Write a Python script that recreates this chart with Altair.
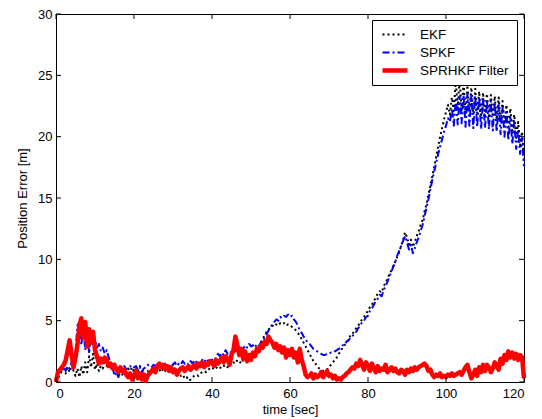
import altair as alt
import pandas as pd

# Sample grid: 0 .. 120 s in 0.5 s steps
time_s = [i * 0.5 for i in range(241)]

ekf = [
    0.0, 0.3, 0.6, 0.9, 1.1, 0.7, 1.2, 0.8, 1.4, 0.9, 0.5, 1.1, 0.4, 1.3, 0.6, 1.6, 0.8, 2.1, 1.2, 2.3,
    1.0, 1.5, 0.9, 1.3, 1.1, 1.6, 1.3, 1.5, 1.2, 1.4, 1.1, 1.3, 0.9, 1.2, 0.6, 1.0, 0.7, 1.1, 0.9, 1.2,
    0.8, 1.1, 0.9, 1.3, 1.0, 0.8, 0.6, 0.9, 0.7, 1.0, 0.8, 1.1, 0.9, 1.0, 0.8, 1.1, 0.9, 1.2, 1.0, 1.1,
    0.9, 1.0, 0.7, 0.8, 0.5, 0.6, 0.3, 0.4, 0.1, 0.2, 0.4, 0.5, 0.6, 0.5, 0.7, 0.8, 0.9, 0.8, 1.0, 1.1,
    1.0, 1.2, 1.1, 1.3, 1.2, 1.1, 1.3, 1.4, 1.2, 1.5, 1.4, 1.6, 1.5, 1.8, 1.7, 1.5, 1.8, 2.0, 1.6, 1.9,
    2.0, 2.2, 2.3, 2.5, 2.9, 3.2, 3.5, 3.8, 4.1, 4.3, 4.4, 4.6, 4.5, 4.7, 4.6, 4.8, 4.7, 4.8, 4.6, 4.7,
    4.6, 4.5, 4.4, 4.2, 4.0, 3.8, 3.5, 3.2, 2.9, 2.6, 2.3, 2.0, 1.7, 1.5, 1.3, 1.1, 1.0, 0.9, 0.9, 1.0,
    1.2, 1.4, 1.6, 1.8, 2.0, 2.3, 2.5, 2.8, 3.0, 3.2, 3.5, 3.8, 3.9, 4.2, 4.4, 4.6, 4.9, 5.1, 5.3, 5.6,
    5.8, 6.1, 6.3, 6.6, 6.9, 7.2, 7.4, 7.3, 7.8, 8.1, 8.4, 8.8, 9.1, 9.5, 9.8, 10.2, 10.6, 11.1, 11.6, 12.2,
    11.8, 11.2, 11.6, 11.0, 11.4, 11.9, 12.3, 12.8, 13.2, 13.9, 14.5, 15.3, 16.0, 16.8, 17.6, 18.4, 19.2, 20.0, 20.7, 21.4,
    22.0, 22.6, 21.8, 23.2, 22.1, 24.6, 22.3, 24.9, 22.0, 24.5, 21.9, 24.2, 22.1, 24.0, 21.8, 23.9, 21.9, 23.7, 21.6, 23.6,
    21.7, 23.5, 21.5, 23.4, 21.6, 23.3, 21.4, 23.2, 21.2, 22.9, 21.0, 22.6, 20.6, 22.3, 20.3, 21.8, 19.9, 21.2, 19.3, 20.4,
    18.2,
]

spkf = [
    0.3, 0.6, 0.9, 1.0, 1.2, 0.9, 1.3, 1.1, 1.6, 1.4, 2.5, 4.6, 4.9, 3.0, 4.5, 2.6, 4.2, 2.3, 4.0, 3.5,
    3.4, 2.8, 3.1, 2.5, 2.8, 2.3, 2.6, 2.0, 1.6, 1.2, 0.5, 0.8, 0.4, 0.9, 1.1, 1.3, 1.0, 1.2, 1.3, 1.1,
    1.2, 1.3, 1.0, 1.2, 0.8, 1.1, 1.2, 1.4, 1.3, 1.2, 1.4, 1.3, 1.5, 1.2, 1.4, 1.3, 1.5, 1.4, 1.3, 1.5,
    1.4, 1.6, 1.3, 1.5, 1.4, 1.7, 1.5, 1.6, 1.4, 1.7, 1.5, 1.8, 1.6, 1.7, 1.5, 1.8, 1.6, 1.9, 1.7, 1.8,
    1.8, 2.0, 1.9, 2.3, 2.1, 2.4, 2.2, 2.6, 2.3, 2.5, 2.4, 2.7, 2.5, 2.9, 2.6, 2.8, 2.7, 3.0, 2.8, 3.1,
    2.9, 3.0, 2.8, 3.1, 2.9, 3.2, 3.3, 3.6, 3.9, 4.2, 4.5, 4.7, 4.9, 5.1, 5.0, 5.3, 5.2, 5.4, 5.3, 5.5,
    5.3, 5.4, 5.1, 4.9, 4.6, 4.2, 4.0, 3.7, 3.5, 3.2, 3.1, 2.9, 2.7, 2.6, 2.5, 2.4, 2.3, 2.2, 2.2, 2.3,
    2.3, 2.4, 2.4, 2.5, 2.6, 2.7, 2.8, 3.0, 3.0, 3.3, 3.4, 3.6, 3.7, 4.0, 4.1, 4.4, 4.6, 4.9, 5.0, 5.3,
    5.4, 5.8, 6.0, 6.3, 6.6, 6.8, 7.1, 7.0, 7.5, 7.8, 8.2, 8.6, 9.0, 9.4, 9.8, 10.3, 10.7, 11.1, 11.5, 11.9,
    11.4, 10.8, 11.2, 10.5, 10.9, 11.4, 11.8, 12.3, 12.8, 13.5, 14.2, 14.9, 15.7, 16.5, 17.2, 17.9, 18.6, 19.2, 19.8, 20.4,
    20.9, 21.5, 21.2, 22.3, 20.9, 23.0, 21.0, 23.3, 21.1, 23.4, 20.8, 23.5, 20.9, 23.4, 20.7, 23.3, 20.8, 23.2, 20.6, 23.1,
    20.7, 23.0, 20.6, 22.9, 20.5, 22.8, 20.4, 22.6, 20.2, 22.4, 20.0, 22.0, 19.7, 21.6, 19.4, 21.2, 19.0, 20.6, 18.6, 19.9,
    17.6,
]

sprhkf = [
    0.0, 0.8, 1.0, 1.2, 1.4, 1.8, 2.6, 3.4, 2.2, 1.2, 2.0, 3.0, 4.6, 5.2, 3.6, 4.9, 2.9, 4.3, 3.2, 4.1,
    2.6, 2.1, 1.5, 1.9, 1.6, 2.0, 1.8, 1.3, 1.5, 1.1, 1.4, 1.0, 0.8, 1.2, 0.9, 1.0, 0.6, 0.4, 0.7, 0.2,
    0.5, 0.9, 0.3, 0.7, 0.2, 0.6, 0.1, 0.5, 0.7, 0.9, 1.1, 0.8, 1.3, 1.5, 1.2, 1.4, 1.1, 1.3, 0.9, 1.2,
    0.8, 1.0, 0.6, 0.9, 1.1, 1.2, 0.9, 1.1, 1.3, 1.0, 1.2, 1.4, 1.1, 1.5, 1.3, 1.6, 1.2, 1.5, 1.4, 1.7,
    1.6, 1.3, 1.8, 1.5, 1.7, 2.0, 1.6, 2.1, 1.9, 1.4, 2.2, 2.6, 3.7, 3.0, 2.2, 2.7, 1.9, 2.5, 1.7, 2.2,
    1.8, 2.4, 2.1, 2.7, 2.5, 3.0, 2.8, 3.3, 3.1, 3.7, 3.4, 3.2, 2.8, 3.1, 2.6, 2.9, 2.4, 2.8, 2.0, 2.6,
    2.2, 2.7, 2.0, 2.4, 1.6, 2.7, 1.8, 1.3, 0.6, 0.4, 0.5, 0.7, 0.3, 0.6, 0.4, 0.5, 0.8, 0.4, 0.6, 0.9,
    0.5, 0.6, 0.3, 0.5, 0.2, 0.3, 0.2, 0.4, 0.5, 0.7, 0.8, 1.0, 1.2, 1.1, 1.5, 1.3, 1.8, 1.4, 1.0, 1.6,
    1.3, 0.9, 1.5, 1.1, 0.8, 1.3, 0.9, 1.1, 1.0, 1.4, 0.8, 1.0, 1.2, 0.9, 1.1, 0.8, 0.7, 1.0, 0.9, 0.6,
    1.0, 0.8, 1.1, 0.9, 1.2, 1.0, 1.2, 1.3, 1.4, 1.5, 1.3, 0.9, 1.0, 0.6, 0.4, 0.6, 0.5, 0.7, 0.4, 0.5,
    0.4, 0.6, 0.5, 0.7, 0.5, 0.6, 0.7, 0.8, 0.6, 0.9, 1.2, 1.4, 0.8, 0.3, 0.6, 1.0, 0.5, 1.2, 0.8, 1.4,
    0.9, 1.4, 1.2, 0.8, 1.1, 1.6, 1.3, 1.0, 1.9, 1.5, 2.2, 1.8, 2.5, 2.0, 2.4, 1.9, 2.3, 1.8, 2.2, 2.0,
    0.3,
]

series_names = ["EKF", "SPKF", "SPRHKF Filter"]
series_colors = ["#000000", "#0000ff", "#ff0000"]
series_dashes = [[2, 3], [7, 3, 2, 3], [1, 0]]
series_widths = [2, 2, 4.5]

x_ticks = [0, 20, 40, 60, 80, 100, 120]
y_ticks = [0, 5, 10, 15, 20, 25, 30]

W, H = 468, 368
FONT = "Liberation Sans"

rows = []
for name, values in zip(series_names, [ekf, spkf, sprhkf]):
    for t, v in zip(time_s, values):
        rows.append({"t": t, "v": v, "series": name})
df = pd.DataFrame(rows)

x_scale = alt.Scale(domain=[0, 120], nice=False, zero=False)
y_scale = alt.Scale(domain=[0, 30], nice=False, zero=False)

x_axis = alt.Axis(values=x_ticks, title="time [sec]", grid=False, domain=False, ticks=False,
                  tickSize=0, labelPadding=5, titlePadding=3, format="d")
y_axis = alt.Axis(values=y_ticks, title="Position Error [m]", grid=False, domain=False, ticks=False,
                  tickSize=0, labelPadding=4, titlePadding=8, format="d")

lines = alt.Chart(df).mark_line(strokeCap="butt", strokeJoin="round").encode(
    x=alt.X("t:Q", scale=x_scale, axis=x_axis),
    y=alt.Y("v:Q", scale=y_scale, axis=y_axis),
    color=alt.Color("series:N", sort=series_names,
                    scale=alt.Scale(domain=series_names, range=series_colors),
                    legend=alt.Legend(title=None)),
    strokeDash=alt.StrokeDash("series:N", sort=series_names,
                              scale=alt.Scale(domain=series_names, range=series_dashes),
                              legend=alt.Legend(title=None)),
    strokeWidth=alt.StrokeWidth("series:N", sort=series_names,
                                scale=alt.Scale(type="ordinal", domain=series_names,
                                                range=series_widths),
                                legend=alt.Legend(title=None)),
)

xtick_df = pd.DataFrame({"t": x_ticks})
ytick_df = pd.DataFrame({"v": y_ticks})
TL = 5  # inward tick length in px

bottom_ticks = alt.Chart(xtick_df).mark_rule(color="black", strokeWidth=1).encode(
    x=alt.X("t:Q", scale=x_scale, axis=x_axis), y=alt.value(H), y2=alt.value(H - TL))
top_ticks = alt.Chart(xtick_df).mark_rule(color="black", strokeWidth=1).encode(
    x=alt.X("t:Q", scale=x_scale, axis=x_axis), y=alt.value(0), y2=alt.value(TL))
left_ticks = alt.Chart(ytick_df).mark_rule(color="black", strokeWidth=1).encode(
    y=alt.Y("v:Q", scale=y_scale, axis=y_axis), x=alt.value(0), x2=alt.value(TL))
right_ticks = alt.Chart(ytick_df).mark_rule(color="black", strokeWidth=1).encode(
    y=alt.Y("v:Q", scale=y_scale, axis=y_axis), x=alt.value(W), x2=alt.value(W - TL))

chart = alt.layer(lines, bottom_ticks, top_ticks, left_ticks, right_ticks).properties(
    width=W, height=H,
    autosize=alt.AutoSizeParams(type="none"),
    padding={"left": 56, "top": 14, "right": 18, "bottom": 37},
    background="white",
).configure_view(
    stroke="black", strokeWidth=1,
).configure_axis(
    labelFont=FONT, labelFontSize=13, labelColor="black",
    titleFont=FONT, titleFontSize=13, titleColor="black", titleFontWeight="normal",
).configure_legend(
    orient="none", legendX=316, legendY=6,
    strokeColor="black", fillColor="white", padding=8,
    symbolType="stroke", symbolSize=625, clipHeight=13,
    labelFont=FONT, labelFontSize=13.5, labelColor="black", labelOffset=10,
    rowPadding=4, cornerRadius=0,
)

chart.save("out.html", embed_options={"renderer": "svg", "actions": False})
